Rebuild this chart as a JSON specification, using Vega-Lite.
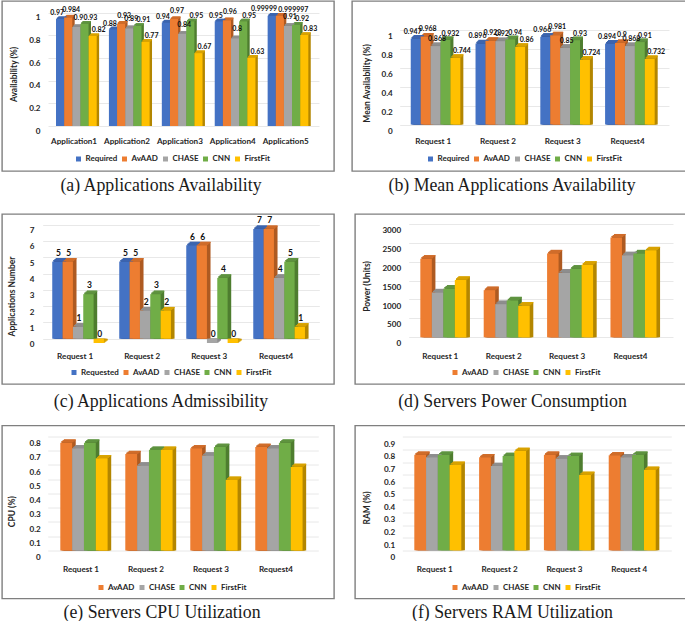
{"$schema":"https://vega.github.io/schema/vega-lite/v6.json","padding":{"left":1,"top":0,"right":0,"bottom":0},"background":"white","spacing":13.5,"resolve":{"scale":{"color":"independent","fill":"independent","stroke":"independent","xOffset":"independent"}},
"config":{"view":{"stroke":"#7f7f7f","strokeWidth":1.4},"title":{"font":"Liberation Serif","fontSize":17.8,"fontWeight":"normal","orient":"bottom","offset":5,"color":"#1a1a1a","anchor":"middle"},"axis":{"labelFont":"Lato","labelFontWeight":"bold","labelFontSize":8.1,"labelColor":"#262626","titleFont":"Lato","titleFontWeight":"bold","titleFontSize":8.5,"titleColor":"#262626","ticks":false,"domain":false,"gridColor":"#e8e8e8","gridWidth":1},"axisX":{"grid":false,"labelAngle":0,"labelPadding":0,"labelBaseline":"middle"},"legend":{"symbolType":"square","symbolSize":25,"labelFont":"Lato","labelFontWeight":"bold","labelFontSize":8,"labelColor":"#262626","columnPadding":3,"labelOffset":3,"symbolStrokeWidth":0,"gridAlign":"none"},"text":{"font":"Lato","fontWeight":"bold","fontSize":7,"color":"#111","baseline":"middle"}},
"vconcat":[
{"spacing":17,"resolve":{"scale":{"color":"independent","fill":"independent","stroke":"independent","xOffset":"independent"}},"vconcat":[
{"resolve":{"scale":{"color":"independent","fill":"independent","stroke":"independent","xOffset":"independent"}},"hconcat":[
{"width":332,"height":170,"title":{"text":"(a) Applications Availability","dx":-7,"offset":6},"resolve":{"scale":{"xOffset":"independent"}},
"data":{"values":[{"c":"Application1","s":"Required","v":0.97},{"c":"Application1","s":"AvAAD","v":0.984},{"c":"Application1","s":"CHASE","v":0.9},{"c":"Application1","s":"CNN","v":0.93},{"c":"Application1","s":"FirstFit","v":0.82},{"c":"Application2","s":"Required","v":0.88},{"c":"Application2","s":"AvAAD","v":0.93},{"c":"Application2","s":"CHASE","v":0.89},{"c":"Application2","s":"CNN","v":0.91},{"c":"Application2","s":"FirstFit","v":0.77},{"c":"Application3","s":"Required","v":0.94},{"c":"Application3","s":"AvAAD","v":0.97},{"c":"Application3","s":"CHASE","v":0.84},{"c":"Application3","s":"CNN","v":0.95},{"c":"Application3","s":"FirstFit","v":0.67},{"c":"Application4","s":"Required","v":0.95},{"c":"Application4","s":"AvAAD","v":0.96},{"c":"Application4","s":"CHASE","v":0.8},{"c":"Application4","s":"CNN","v":0.95},{"c":"Application4","s":"FirstFit","v":0.63},{"c":"Application5","s":"Required","v":0.99999},{"c":"Application5","s":"AvAAD","v":0.999997},{"c":"Application5","s":"CHASE","v":0.91},{"c":"Application5","s":"CNN","v":0.92},{"c":"Application5","s":"FirstFit","v":0.83}]},
"encoding":{"x":{"field":"c","type":"nominal","sort":null,"scale":{"range":[46,317],"paddingInner":0.23,"paddingOuter":0.176,"align":0.43},"axis":{"title":null,"offset":-29.3,"labelOffset":-2.3}},"y":{"field":"v","type":"quantitative","stack":null,"scale":{"domain":[0,1],"range":[125,11.7],"nice":false},"axis":{"title":"Availability (%)","values":[0,0.2,0.4,0.6,0.8,1],"format":"~g","grid":true,"offset":-40,"labelPadding":2,"labelOffset":5,"titleX":-24,"titleY":73}}},
"layer":[
{"mark":{"type":"bar","yOffset":2.3,"y2Offset":2.3},"encoding":{"xOffset":{"field":"s","type":"nominal","scale":{"domain":["Required","AvAAD","CHASE","CNN","FirstFit"],"range":[0.8,41.5]}},"fill":{"field":"s","type":"nominal","legend":null,"scale":{"domain":["FirstFit","CNN","CHASE","AvAAD","Required"],"range":["#b38600","#4e7d2f","#7b7b7b","#ae5a21","#2f5597"]}}}},
{"mark":{"type":"bar","yOffset":1.6,"y2Offset":1.6},"encoding":{"xOffset":{"field":"s","type":"nominal","scale":{"domain":["Required","AvAAD","CHASE","CNN","FirstFit"],"range":[1.6,42.3]}},"fill":{"field":"s","type":"nominal","legend":null}}},
{"mark":{"type":"bar","yOffset":0.9,"y2Offset":0.9},"encoding":{"xOffset":{"field":"s","type":"nominal","scale":{"domain":["Required","AvAAD","CHASE","CNN","FirstFit"],"range":[2.4,43.1]}},"fill":{"field":"s","type":"nominal","legend":null}}},
{"mark":{"type":"bar","fill":"transparent","strokeWidth":1,"yOffset":2.3,"y2Offset":2.3},"encoding":{"xOffset":{"field":"s","type":"nominal","scale":{"domain":["Required","AvAAD","CHASE","CNN","FirstFit"],"range":[0.8,41.5]}},"y2":{"field":"v"},"stroke":{"field":"s","type":"nominal","legend":null,"scale":{"domain":["FirstFit","CNN","CHASE","AvAAD","Required"],"range":["#d9a300","#5f9440","#8f8f8f","#d06d2b","#3d66af"]}}}},
{"mark":{"type":"bar","fill":"transparent","strokeWidth":1,"yOffset":1.6,"y2Offset":1.6},"encoding":{"xOffset":{"field":"s","type":"nominal","scale":{"domain":["Required","AvAAD","CHASE","CNN","FirstFit"],"range":[1.6,42.3]}},"y2":{"field":"v"},"stroke":{"field":"s","type":"nominal","legend":null}}},
{"mark":{"type":"bar","fill":"transparent","strokeWidth":1,"yOffset":0.9,"y2Offset":0.9},"encoding":{"xOffset":{"field":"s","type":"nominal","scale":{"domain":["Required","AvAAD","CHASE","CNN","FirstFit"],"range":[2.4,43.1]}},"y2":{"field":"v"},"stroke":{"field":"s","type":"nominal","legend":null}}},
{"mark":{"type":"bar","yOffset":3,"y2Offset":3},"encoding":{"xOffset":{"field":"s","type":"nominal","scale":{"domain":["Required","AvAAD","CHASE","CNN","FirstFit"],"range":[0,40.7]}},"color":{"field":"s","type":"nominal","scale":{"domain":["Required","AvAAD","CHASE","CNN","FirstFit"],"range":["#4472c4","#ed7d31","#a5a5a5","#70ad47","#ffc000"]},"legend":{"orient":"none","direction":"horizontal","title":null,"legendX":72.5,"legendY":154}}}},
{"transform":[{"filter":"datum.s==='Required' && datum.c!=='Application5'"}],"mark":{"type":"text","dx":-3,"dy":-2.6},"encoding":{"xOffset":{"field":"s","type":"nominal","scale":{"domain":["Required","AvAAD","CHASE","CNN","FirstFit"],"range":[0,40.7]}},"text":{"field":"v","type":"quantitative"}}},
{"transform":[{"filter":"datum.s==='AvAAD' && datum.c!=='Application5'"}],"mark":{"type":"text","dx":3,"dy":-5},"encoding":{"xOffset":{"field":"s","type":"nominal","scale":{"domain":["Required","AvAAD","CHASE","CNN","FirstFit"],"range":[0,40.7]}},"text":{"field":"v","type":"quantitative"}}},
{"transform":[{"filter":"datum.s==='Required' && datum.c==='Application5'"}],"mark":{"type":"text","dx":-7.7,"dy":-3.5},"encoding":{"xOffset":{"field":"s","type":"nominal","scale":{"domain":["Required","AvAAD","CHASE","CNN","FirstFit"],"range":[0,40.7]}},"text":{"field":"v","type":"quantitative"}}},
{"transform":[{"filter":"datum.s==='AvAAD' && datum.c==='Application5'"}],"mark":{"type":"text","dx":13.5,"dy":-2.3},"encoding":{"xOffset":{"field":"s","type":"nominal","scale":{"domain":["Required","AvAAD","CHASE","CNN","FirstFit"],"range":[0,40.7]}},"text":{"field":"v","type":"quantitative"}}},
{"transform":[{"filter":"datum.s==='CHASE'"}],"mark":{"type":"text","dx":2,"dy":-6},"encoding":{"xOffset":{"field":"s","type":"nominal","scale":{"domain":["Required","AvAAD","CHASE","CNN","FirstFit"],"range":[0,40.7]}},"text":{"field":"v","type":"quantitative"}}},
{"transform":[{"filter":"datum.s==='CNN'"}],"mark":{"type":"text","dx":6,"dy":-2.6},"encoding":{"xOffset":{"field":"s","type":"nominal","scale":{"domain":["Required","AvAAD","CHASE","CNN","FirstFit"],"range":[0,40.7]}},"text":{"field":"v","type":"quantitative"}}},
{"transform":[{"filter":"datum.s==='FirstFit'"}],"mark":{"type":"text","dx":6,"dy":-3},"encoding":{"xOffset":{"field":"s","type":"nominal","scale":{"domain":["Required","AvAAD","CHASE","CNN","FirstFit"],"range":[0,40.7]}},"text":{"field":"v","type":"quantitative"}}}
]},
{"width":336,"height":170,"title":{"text":"(b) Mean Applications Availability","dx":-8,"offset":6},"resolve":{"scale":{"xOffset":"independent"}},
"data":{"values":[{"c":"Request 1","s":"Required","v":0.947},{"c":"Request 1","s":"AvAAD","v":0.968},{"c":"Request 1","s":"CHASE","v":0.868},{"c":"Request 1","s":"CNN","v":0.932},{"c":"Request 1","s":"FirstFit","v":0.744},{"c":"Request 2","s":"Required","v":0.896},{"c":"Request 2","s":"AvAAD","v":0.923},{"c":"Request 2","s":"CHASE","v":0.92},{"c":"Request 2","s":"CNN","v":0.94},{"c":"Request 2","s":"FirstFit","v":0.86},{"c":"Request 3","s":"Required","v":0.966},{"c":"Request 3","s":"AvAAD","v":0.981},{"c":"Request 3","s":"CHASE","v":0.85},{"c":"Request 3","s":"CNN","v":0.93},{"c":"Request 3","s":"FirstFit","v":0.724},{"c":"Request4","s":"Required","v":0.894},{"c":"Request4","s":"AvAAD","v":0.9},{"c":"Request4","s":"CHASE","v":0.868},{"c":"Request4","s":"CNN","v":0.91},{"c":"Request4","s":"FirstFit","v":0.732}]},
"encoding":{"x":{"field":"c","type":"nominal","sort":null,"scale":{"range":[47.7,317],"paddingInner":0.235,"paddingOuter":0.196,"align":0.435},"axis":{"title":null,"offset":-29.3,"labelOffset":-2.3}},"y":{"field":"v","type":"quantitative","stack":null,"scale":{"domain":[0,1],"range":[123.5,28.5],"nice":false},"axis":{"title":"Mean Availability (%)","values":[0,0.2,0.4,0.6,0.8,1],"format":"~g","grid":true,"offset":-42.3,"labelPadding":2,"labelOffset":6.5,"titleX":-23.3,"titleY":82}}},
"layer":[
{"mark":{"type":"bar","yOffset":3,"y2Offset":3},"encoding":{"xOffset":{"field":"s","type":"nominal","scale":{"domain":["Required","AvAAD","CHASE","CNN","FirstFit"],"range":[1,50.6]}},"fill":{"field":"s","type":"nominal","legend":null,"scale":{"domain":["FirstFit","CNN","CHASE","AvAAD","Required"],"range":["#b38600","#4e7d2f","#7b7b7b","#ae5a21","#2f5597"]}}}},
{"mark":{"type":"bar","yOffset":2,"y2Offset":2},"encoding":{"xOffset":{"field":"s","type":"nominal","scale":{"domain":["Required","AvAAD","CHASE","CNN","FirstFit"],"range":[2,51.6]}},"fill":{"field":"s","type":"nominal","legend":null}}},
{"mark":{"type":"bar","yOffset":1,"y2Offset":1},"encoding":{"xOffset":{"field":"s","type":"nominal","scale":{"domain":["Required","AvAAD","CHASE","CNN","FirstFit"],"range":[3,52.6]}},"fill":{"field":"s","type":"nominal","legend":null}}},
{"mark":{"type":"bar","fill":"transparent","strokeWidth":1,"yOffset":3,"y2Offset":3},"encoding":{"xOffset":{"field":"s","type":"nominal","scale":{"domain":["Required","AvAAD","CHASE","CNN","FirstFit"],"range":[1,50.6]}},"y2":{"field":"v"},"stroke":{"field":"s","type":"nominal","legend":null,"scale":{"domain":["FirstFit","CNN","CHASE","AvAAD","Required"],"range":["#d9a300","#5f9440","#8f8f8f","#d06d2b","#3d66af"]}}}},
{"mark":{"type":"bar","fill":"transparent","strokeWidth":1,"yOffset":2,"y2Offset":2},"encoding":{"xOffset":{"field":"s","type":"nominal","scale":{"domain":["Required","AvAAD","CHASE","CNN","FirstFit"],"range":[2,51.6]}},"y2":{"field":"v"},"stroke":{"field":"s","type":"nominal","legend":null}}},
{"mark":{"type":"bar","fill":"transparent","strokeWidth":1,"yOffset":1,"y2Offset":1},"encoding":{"xOffset":{"field":"s","type":"nominal","scale":{"domain":["Required","AvAAD","CHASE","CNN","FirstFit"],"range":[3,52.6]}},"y2":{"field":"v"},"stroke":{"field":"s","type":"nominal","legend":null}}},
{"mark":{"type":"bar","yOffset":4,"y2Offset":4},"encoding":{"xOffset":{"field":"s","type":"nominal","scale":{"domain":["Required","AvAAD","CHASE","CNN","FirstFit"],"range":[0,49.6]}},"color":{"field":"s","type":"nominal","scale":{"domain":["Required","AvAAD","CHASE","CNN","FirstFit"],"range":["#4472c4","#ed7d31","#a5a5a5","#70ad47","#ffc000"]},"legend":{"orient":"none","direction":"horizontal","title":null,"legendX":74.5,"legendY":154}}}},
{"transform":[{"filter":"datum.s==='Required'"}],"mark":{"type":"text","dx":-3,"dy":-3},"encoding":{"xOffset":{"field":"s","type":"nominal","scale":{"domain":["Required","AvAAD","CHASE","CNN","FirstFit"],"range":[0,49.6]}},"text":{"field":"v","type":"quantitative"}}},
{"transform":[{"filter":"datum.s==='AvAAD'"}],"mark":{"type":"text","dx":2,"dy":-4},"encoding":{"xOffset":{"field":"s","type":"nominal","scale":{"domain":["Required","AvAAD","CHASE","CNN","FirstFit"],"range":[0,49.6]}},"text":{"field":"v","type":"quantitative"}}},
{"transform":[{"filter":"datum.s==='CHASE'"}],"mark":{"type":"text","dx":1.5,"dy":-3},"encoding":{"xOffset":{"field":"s","type":"nominal","scale":{"domain":["Required","AvAAD","CHASE","CNN","FirstFit"],"range":[0,49.6]}},"text":{"field":"v","type":"quantitative"}}},
{"transform":[{"filter":"datum.s==='CNN'"}],"mark":{"type":"text","dx":5,"dy":-2,"align":"center"},"encoding":{"xOffset":{"field":"s","type":"nominal","scale":{"domain":["Required","AvAAD","CHASE","CNN","FirstFit"],"range":[0,49.6]}},"text":{"field":"v","type":"quantitative"}}},
{"transform":[{"filter":"datum.s==='FirstFit'"}],"mark":{"type":"text","dx":6.5,"dy":-3},"encoding":{"xOffset":{"field":"s","type":"nominal","scale":{"domain":["Required","AvAAD","CHASE","CNN","FirstFit"],"range":[0,49.6]}},"text":{"field":"v","type":"quantitative"}}}
]}
],"spacing":16},
{"resolve":{"scale":{"color":"independent","fill":"independent","stroke":"independent","xOffset":"independent"}},"hconcat":[
{"width":332,"height":170,"title":{"text":"(c) Applications Admissibility","dx":-7,"offset":8.5},"resolve":{"scale":{"xOffset":"independent"}},
"data":{"values":[{"c":"Request 1","s":"Requested","v":5},{"c":"Request 1","s":"AvAAD","v":5},{"c":"Request 1","s":"CHASE","v":1},{"c":"Request 1","s":"CNN","v":3},{"c":"Request 1","s":"FirstFit","v":0},{"c":"Request 2","s":"Requested","v":5},{"c":"Request 2","s":"AvAAD","v":5},{"c":"Request 2","s":"CHASE","v":2},{"c":"Request 2","s":"CNN","v":3},{"c":"Request 2","s":"FirstFit","v":2},{"c":"Request 3","s":"Requested","v":6},{"c":"Request 3","s":"AvAAD","v":6},{"c":"Request 3","s":"CHASE","v":0},{"c":"Request 3","s":"CNN","v":4},{"c":"Request 3","s":"FirstFit","v":0},{"c":"Request4","s":"Requested","v":7},{"c":"Request4","s":"AvAAD","v":7},{"c":"Request4","s":"CHASE","v":4},{"c":"Request4","s":"CNN","v":5},{"c":"Request4","s":"FirstFit","v":1}]},
"encoding":{"x":{"field":"c","type":"nominal","sort":null,"scale":{"range":[40.7,317.3],"paddingInner":0.228,"paddingOuter":0.178,"align":0.4},"axis":{"title":null,"offset":-28,"labelOffset":-3}},"y":{"field":"v","type":"quantitative","stack":null,"scale":{"domain":[0,7],"range":[124.7,10.7],"nice":false},"axis":{"title":"Applications Number","values":[0,1,2,3,4,5,6,7],"format":"d","grid":true,"offset":-34,"labelPadding":2,"labelOffset":6,"titleX":-20,"titleY":82}}},
"layer":[
{"mark":{"type":"bar","yOffset":3.3,"y2Offset":3.3},"encoding":{"xOffset":{"field":"s","type":"nominal","scale":{"domain":["Requested","AvAAD","CHASE","CNN","FirstFit"],"range":[1.2,52.9]}},"fill":{"field":"s","type":"nominal","legend":null,"scale":{"domain":["FirstFit","CNN","CHASE","AvAAD","Requested"],"range":["#b38600","#4e7d2f","#7b7b7b","#ae5a21","#2f5597"]}}}},
{"mark":{"type":"bar","yOffset":2.3,"y2Offset":2.3},"encoding":{"xOffset":{"field":"s","type":"nominal","scale":{"domain":["Requested","AvAAD","CHASE","CNN","FirstFit"],"range":[2.4,54.1]}},"fill":{"field":"s","type":"nominal","legend":null}}},
{"mark":{"type":"bar","yOffset":1.3,"y2Offset":1.3},"encoding":{"xOffset":{"field":"s","type":"nominal","scale":{"domain":["Requested","AvAAD","CHASE","CNN","FirstFit"],"range":[3.6,55.3]}},"fill":{"field":"s","type":"nominal","legend":null}}},
{"mark":{"type":"bar","fill":"transparent","strokeWidth":1,"yOffset":3.3,"y2Offset":3.3},"encoding":{"xOffset":{"field":"s","type":"nominal","scale":{"domain":["Requested","AvAAD","CHASE","CNN","FirstFit"],"range":[1.2,52.9]}},"y2":{"field":"v"},"stroke":{"field":"s","type":"nominal","legend":null,"scale":{"domain":["FirstFit","CNN","CHASE","AvAAD","Requested"],"range":["#d9a300","#5f9440","#8f8f8f","#d06d2b","#3d66af"]}}}},
{"mark":{"type":"bar","fill":"transparent","strokeWidth":1,"yOffset":2.3,"y2Offset":2.3},"encoding":{"xOffset":{"field":"s","type":"nominal","scale":{"domain":["Requested","AvAAD","CHASE","CNN","FirstFit"],"range":[2.4,54.1]}},"y2":{"field":"v"},"stroke":{"field":"s","type":"nominal","legend":null}}},
{"mark":{"type":"bar","fill":"transparent","strokeWidth":1,"yOffset":1.3,"y2Offset":1.3},"encoding":{"xOffset":{"field":"s","type":"nominal","scale":{"domain":["Requested","AvAAD","CHASE","CNN","FirstFit"],"range":[3.6,55.3]}},"y2":{"field":"v"},"stroke":{"field":"s","type":"nominal","legend":null}}},
{"mark":{"type":"bar","yOffset":4.3,"y2Offset":4.3},"encoding":{"xOffset":{"field":"s","type":"nominal","scale":{"domain":["Requested","AvAAD","CHASE","CNN","FirstFit"],"range":[0,51.7]}},"color":{"field":"s","type":"nominal","scale":{"domain":["Requested","AvAAD","CHASE","CNN","FirstFit"],"range":["#4472c4","#ed7d31","#a5a5a5","#70ad47","#ffc000"]},"legend":{"orient":"none","direction":"horizontal","title":null,"legendX":68,"legendY":154.5}}}},
{"mark":{"type":"text","dx":1,"dy":-4.4,"fontSize":8.5},"encoding":{"xOffset":{"field":"s","type":"nominal","scale":{"domain":["Requested","AvAAD","CHASE","CNN","FirstFit"],"range":[0,51.7]}},"text":{"field":"v","type":"quantitative"}}}
]},
{"width":333,"height":170,"title":{"text":"(d) Servers Power Consumption","dx":-9,"offset":8.5},"resolve":{"scale":{"xOffset":"independent"}},
"data":{"values":[{"c":"Request 1","s":"AvAAD","v":2200},{"c":"Request 1","s":"CHASE","v":1310},{"c":"Request 1","s":"CNN","v":1410},{"c":"Request 1","s":"FirstFit","v":1640},{"c":"Request 2","s":"AvAAD","v":1370},{"c":"Request 2","s":"CHASE","v":1000},{"c":"Request 2","s":"CNN","v":1100},{"c":"Request 2","s":"FirstFit","v":960},{"c":"Request 3","s":"AvAAD","v":2340},{"c":"Request 3","s":"CHASE","v":1830},{"c":"Request 3","s":"CNN","v":1935},{"c":"Request 3","s":"FirstFit","v":2040},{"c":"Request4","s":"AvAAD","v":2760},{"c":"Request4","s":"CHASE","v":2290},{"c":"Request4","s":"CNN","v":2340},{"c":"Request4","s":"FirstFit","v":2420}]},
"encoding":{"x":{"field":"c","type":"nominal","sort":null,"scale":{"range":[53.7,318],"paddingInner":0.274,"paddingOuter":0.222,"align":0.413},"axis":{"title":null,"offset":-28,"labelOffset":-3}},"y":{"field":"v","type":"quantitative","stack":null,"scale":{"domain":[0,3000],"range":[123.3,9.7],"nice":false},"axis":{"title":"Power (Units)","values":[0,500,1000,1500,2000,2500,3000],"format":"d","grid":true,"offset":-47.7,"labelPadding":2,"labelOffset":6.6,"titleX":-31.4,"titleY":72}}},
"layer":[
{"mark":{"type":"bar","yOffset":3.7,"y2Offset":3.7},"encoding":{"xOffset":{"field":"s","type":"nominal","scale":{"domain":["AvAAD","CHASE","CNN","FirstFit"],"range":[1.2,47.2]}},"fill":{"field":"s","type":"nominal","legend":null,"scale":{"domain":["FirstFit","CNN","CHASE","AvAAD"],"range":["#b38600","#4e7d2f","#7b7b7b","#ae5a21"]}}}},
{"mark":{"type":"bar","yOffset":2.7,"y2Offset":2.7},"encoding":{"xOffset":{"field":"s","type":"nominal","scale":{"domain":["AvAAD","CHASE","CNN","FirstFit"],"range":[2.4,48.4]}},"fill":{"field":"s","type":"nominal","legend":null}}},
{"mark":{"type":"bar","yOffset":1.7,"y2Offset":1.7},"encoding":{"xOffset":{"field":"s","type":"nominal","scale":{"domain":["AvAAD","CHASE","CNN","FirstFit"],"range":[3.6,49.6]}},"fill":{"field":"s","type":"nominal","legend":null}}},
{"mark":{"type":"bar","fill":"transparent","strokeWidth":1,"yOffset":3.7,"y2Offset":3.7},"encoding":{"xOffset":{"field":"s","type":"nominal","scale":{"domain":["AvAAD","CHASE","CNN","FirstFit"],"range":[1.2,47.2]}},"y2":{"field":"v"},"stroke":{"field":"s","type":"nominal","legend":null,"scale":{"domain":["FirstFit","CNN","CHASE","AvAAD"],"range":["#d9a300","#5f9440","#8f8f8f","#d06d2b"]}}}},
{"mark":{"type":"bar","fill":"transparent","strokeWidth":1,"yOffset":2.7,"y2Offset":2.7},"encoding":{"xOffset":{"field":"s","type":"nominal","scale":{"domain":["AvAAD","CHASE","CNN","FirstFit"],"range":[2.4,48.4]}},"y2":{"field":"v"},"stroke":{"field":"s","type":"nominal","legend":null}}},
{"mark":{"type":"bar","fill":"transparent","strokeWidth":1,"yOffset":1.7,"y2Offset":1.7},"encoding":{"xOffset":{"field":"s","type":"nominal","scale":{"domain":["AvAAD","CHASE","CNN","FirstFit"],"range":[3.6,49.6]}},"y2":{"field":"v"},"stroke":{"field":"s","type":"nominal","legend":null}}},
{"mark":{"type":"bar","yOffset":4.7,"y2Offset":4.7},"encoding":{"xOffset":{"field":"s","type":"nominal","scale":{"domain":["AvAAD","CHASE","CNN","FirstFit"],"range":[0,46]}},"color":{"field":"s","type":"nominal","scale":{"domain":["AvAAD","CHASE","CNN","FirstFit"],"range":["#ed7d31","#a5a5a5","#70ad47","#ffc000"]},"legend":{"orient":"none","direction":"horizontal","title":null,"legendX":96,"legendY":154.5}}}}
]}
],"spacing":19}
]},
{"resolve":{"scale":{"color":"independent","fill":"independent","stroke":"independent","xOffset":"independent"}},"hconcat":[
{"width":332,"height":173,"title":{"text":"(e) Servers CPU Utilization","dx":-6},"resolve":{"scale":{"xOffset":"independent"}},
"data":{"values":[{"c":"Request 1","s":"AvAAD","v":0.79},{"c":"Request 1","s":"CHASE","v":0.75},{"c":"Request 1","s":"CNN","v":0.79},{"c":"Request 1","s":"FirstFit","v":0.68},{"c":"Request 2","s":"AvAAD","v":0.71},{"c":"Request 2","s":"CHASE","v":0.63},{"c":"Request 2","s":"CNN","v":0.74},{"c":"Request 2","s":"FirstFit","v":0.74},{"c":"Request 3","s":"AvAAD","v":0.75},{"c":"Request 3","s":"CHASE","v":0.7},{"c":"Request 3","s":"CNN","v":0.76},{"c":"Request 3","s":"FirstFit","v":0.53},{"c":"Request4","s":"AvAAD","v":0.76},{"c":"Request4","s":"CHASE","v":0.75},{"c":"Request4","s":"CNN","v":0.79},{"c":"Request4","s":"FirstFit","v":0.62}]},
"encoding":{"x":{"field":"c","type":"nominal","sort":null,"scale":{"range":[45.7,316.3],"paddingInner":0.272,"paddingOuter":0.218,"align":0.445},"axis":{"title":null,"offset":-29.3,"labelOffset":-3}},"y":{"field":"v","type":"quantitative","stack":null,"scale":{"domain":[0,0.8],"range":[125,10.7],"nice":false},"axis":{"title":"CPU (%)","values":[0,0.1,0.2,0.3,0.4,0.5,0.6,0.7,0.8],"format":"~g","grid":true,"offset":-40.3,"labelPadding":2,"labelOffset":7.3,"titleX":-25.6,"titleY":85.7}}},
"layer":[
{"mark":{"type":"bar","yOffset":4.1,"y2Offset":4.1},"encoding":{"xOffset":{"field":"s","type":"nominal","scale":{"domain":["AvAAD","CHASE","CNN","FirstFit"],"range":[1.2,48.5]}},"fill":{"field":"s","type":"nominal","legend":null,"scale":{"domain":["FirstFit","CNN","CHASE","AvAAD"],"range":["#b38600","#4e7d2f","#7b7b7b","#ae5a21"]}}}},
{"mark":{"type":"bar","yOffset":3.2,"y2Offset":3.2},"encoding":{"xOffset":{"field":"s","type":"nominal","scale":{"domain":["AvAAD","CHASE","CNN","FirstFit"],"range":[2.4,49.7]}},"fill":{"field":"s","type":"nominal","legend":null}}},
{"mark":{"type":"bar","yOffset":2.3,"y2Offset":2.3},"encoding":{"xOffset":{"field":"s","type":"nominal","scale":{"domain":["AvAAD","CHASE","CNN","FirstFit"],"range":[3.6,50.9]}},"fill":{"field":"s","type":"nominal","legend":null}}},
{"mark":{"type":"bar","fill":"transparent","strokeWidth":1,"yOffset":4.1,"y2Offset":4.1},"encoding":{"xOffset":{"field":"s","type":"nominal","scale":{"domain":["AvAAD","CHASE","CNN","FirstFit"],"range":[1.2,48.5]}},"y2":{"field":"v"},"stroke":{"field":"s","type":"nominal","legend":null,"scale":{"domain":["FirstFit","CNN","CHASE","AvAAD"],"range":["#d9a300","#5f9440","#8f8f8f","#d06d2b"]}}}},
{"mark":{"type":"bar","fill":"transparent","strokeWidth":1,"yOffset":3.2,"y2Offset":3.2},"encoding":{"xOffset":{"field":"s","type":"nominal","scale":{"domain":["AvAAD","CHASE","CNN","FirstFit"],"range":[2.4,49.7]}},"y2":{"field":"v"},"stroke":{"field":"s","type":"nominal","legend":null}}},
{"mark":{"type":"bar","fill":"transparent","strokeWidth":1,"yOffset":2.3,"y2Offset":2.3},"encoding":{"xOffset":{"field":"s","type":"nominal","scale":{"domain":["AvAAD","CHASE","CNN","FirstFit"],"range":[3.6,50.9]}},"y2":{"field":"v"},"stroke":{"field":"s","type":"nominal","legend":null}}},
{"mark":{"type":"bar","yOffset":5,"y2Offset":5},"encoding":{"xOffset":{"field":"s","type":"nominal","scale":{"domain":["AvAAD","CHASE","CNN","FirstFit"],"range":[0,47.3]}},"color":{"field":"s","type":"nominal","scale":{"domain":["AvAAD","CHASE","CNN","FirstFit"],"range":["#ed7d31","#a5a5a5","#70ad47","#ffc000"]},"legend":{"orient":"none","direction":"horizontal","title":null,"legendX":95,"legendY":158}}}}
]},
{"width":333,"height":173,"title":{"text":"(f) Servers RAM Utilization","dx":-9},"resolve":{"scale":{"xOffset":"independent"}},
"data":{"values":[{"c":"Request 1","s":"AvAAD","v":0.8},{"c":"Request 1","s":"CHASE","v":0.78},{"c":"Request 1","s":"CNN","v":0.8},{"c":"Request 1","s":"FirstFit","v":0.72},{"c":"Request 2","s":"AvAAD","v":0.78},{"c":"Request 2","s":"CHASE","v":0.71},{"c":"Request 2","s":"CNN","v":0.79},{"c":"Request 2","s":"FirstFit","v":0.83},{"c":"Request 3","s":"AvAAD","v":0.8},{"c":"Request 3","s":"CHASE","v":0.77},{"c":"Request 3","s":"CNN","v":0.79},{"c":"Request 3","s":"FirstFit","v":0.64},{"c":"Request 4","s":"AvAAD","v":0.795},{"c":"Request 4","s":"CHASE","v":0.78},{"c":"Request 4","s":"CNN","v":0.8},{"c":"Request 4","s":"FirstFit","v":0.68}]},
"encoding":{"x":{"field":"c","type":"nominal","sort":null,"scale":{"range":[47.3,316.3],"paddingInner":0.275,"paddingOuter":0.213,"align":0.435},"axis":{"title":null,"offset":-29.3,"labelOffset":-3}},"y":{"field":"v","type":"quantitative","stack":null,"scale":{"domain":[0,0.9],"range":[124.7,11.3],"nice":false},"axis":{"title":"RAM (%)","values":[0,0.1,0.2,0.3,0.4,0.5,0.6,0.7,0.8,0.9],"format":"~g","grid":true,"offset":-41.7,"labelPadding":2,"labelOffset":7.4,"titleX":-25.4,"titleY":82}}},
"layer":[
{"mark":{"type":"bar","yOffset":4.4,"y2Offset":4.4},"encoding":{"xOffset":{"field":"s","type":"nominal","scale":{"domain":["AvAAD","CHASE","CNN","FirstFit"],"range":[1.2,48.2]}},"fill":{"field":"s","type":"nominal","legend":null,"scale":{"domain":["FirstFit","CNN","CHASE","AvAAD"],"range":["#b38600","#4e7d2f","#7b7b7b","#ae5a21"]}}}},
{"mark":{"type":"bar","yOffset":3.5,"y2Offset":3.5},"encoding":{"xOffset":{"field":"s","type":"nominal","scale":{"domain":["AvAAD","CHASE","CNN","FirstFit"],"range":[2.4,49.4]}},"fill":{"field":"s","type":"nominal","legend":null}}},
{"mark":{"type":"bar","yOffset":2.6,"y2Offset":2.6},"encoding":{"xOffset":{"field":"s","type":"nominal","scale":{"domain":["AvAAD","CHASE","CNN","FirstFit"],"range":[3.6,50.6]}},"fill":{"field":"s","type":"nominal","legend":null}}},
{"mark":{"type":"bar","fill":"transparent","strokeWidth":1,"yOffset":4.4,"y2Offset":4.4},"encoding":{"xOffset":{"field":"s","type":"nominal","scale":{"domain":["AvAAD","CHASE","CNN","FirstFit"],"range":[1.2,48.2]}},"y2":{"field":"v"},"stroke":{"field":"s","type":"nominal","legend":null,"scale":{"domain":["FirstFit","CNN","CHASE","AvAAD"],"range":["#d9a300","#5f9440","#8f8f8f","#d06d2b"]}}}},
{"mark":{"type":"bar","fill":"transparent","strokeWidth":1,"yOffset":3.5,"y2Offset":3.5},"encoding":{"xOffset":{"field":"s","type":"nominal","scale":{"domain":["AvAAD","CHASE","CNN","FirstFit"],"range":[2.4,49.4]}},"y2":{"field":"v"},"stroke":{"field":"s","type":"nominal","legend":null}}},
{"mark":{"type":"bar","fill":"transparent","strokeWidth":1,"yOffset":2.6,"y2Offset":2.6},"encoding":{"xOffset":{"field":"s","type":"nominal","scale":{"domain":["AvAAD","CHASE","CNN","FirstFit"],"range":[3.6,50.6]}},"y2":{"field":"v"},"stroke":{"field":"s","type":"nominal","legend":null}}},
{"mark":{"type":"bar","yOffset":5.3,"y2Offset":5.3},"encoding":{"xOffset":{"field":"s","type":"nominal","scale":{"domain":["AvAAD","CHASE","CNN","FirstFit"],"range":[0,47]}},"color":{"field":"s","type":"nominal","scale":{"domain":["AvAAD","CHASE","CNN","FirstFit"],"range":["#ed7d31","#a5a5a5","#70ad47","#ffc000"]},"legend":{"orient":"none","direction":"horizontal","title":null,"legendX":96,"legendY":158}}}}
]}
],"spacing":19}
]}
